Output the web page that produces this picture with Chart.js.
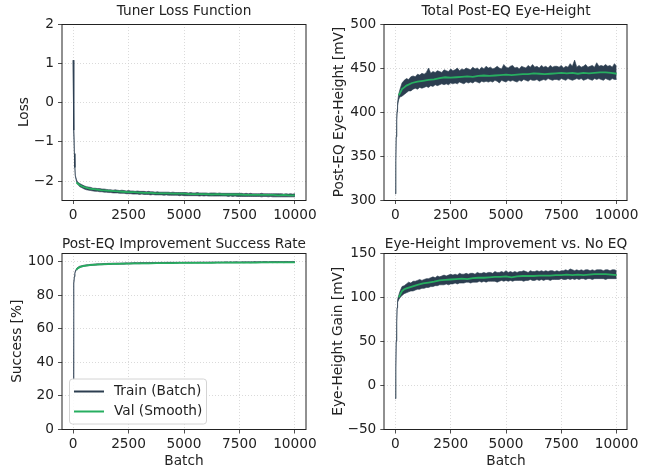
<!DOCTYPE html>
<html>
<head>
<meta charset="utf-8">
<script src="https://cdn.jsdelivr.net/npm/chart.js@4.4.0/dist/chart.umd.min.js"></script>
<style>
  body { margin: 0; background: #fff; }
  #wrap { position: relative; width: 660px; height: 472px; }
  canvas { position: absolute; }
</style>
</head>
<body>
<div id="wrap">
  <canvas id="lossChart" width="330" height="236" style="left:0;top:0"></canvas>
  <canvas id="eyeChart" width="330" height="236" style="left:330px;top:0"></canvas>
  <canvas id="successChart" width="330" height="236" style="left:0;top:236px"></canvas>
  <canvas id="gainChart" width="330" height="236" style="left:330px;top:236px"></canvas>
</div>
<script>
// batch index of the train samples (upper / lower edge of the noisy batch curve)
const trainBatch = [
  0, 20, 40, 60, 80, 100, 150, 200,
  300, 400, 500, 600, 700, 800, 900, 1000, 1100, 1200,
  1300, 1400, 1500, 1600, 1700, 1800, 1900, 2000, 2100, 2200,
  2300, 2400, 2500, 2600, 2700, 2800, 2900, 3000, 3100, 3200,
  3300, 3400, 3500, 3600, 3700, 3800, 3900, 4000, 4100, 4200,
  4300, 4400, 4500, 4600, 4700, 4800, 4900, 5000, 5100, 5200,
  5300, 5400, 5500, 5600, 5700, 5800, 5900, 6000, 6100, 6200,
  6300, 6400, 6500, 6600, 6700, 6800, 6900, 7000, 7100, 7200,
  7300, 7400, 7500, 7600, 7700, 7800, 7900, 8000, 8100, 8200,
  8300, 8400, 8500, 8600, 8700, 8800, 8900, 9000, 9100, 9200,
  9300, 9400, 9500, 9600, 9700, 9800, 9900, 10000
];
// batch index of the smoothed validation samples
const valBatch = [
  150, 200, 300, 400, 500,
  750, 1000, 1250, 1500, 1750, 2000, 2250, 2500, 2750, 3000,
  3250, 3500, 3750, 4000, 4250, 4500, 4750, 5000, 5250, 5500,
  5750, 6000, 6250, 6500, 6750, 7000, 7250, 7500, 7750, 8000,
  8250, 8500, 8750, 9000, 9250, 9500, 9750, 10000
];

const xTicks = [0, 2500, 5000, 7500, 10000];

// Tuner Loss Function
const lossHi = [
  1.08, 0.2, -0.7, -1.3, -1.65, -1.85, -1.96, -2.02,
  -2.06, -2.09, -2.12, -2.14, -2.15, -2.16, -2.18, -2.18, -2.19, -2.19,
  -2.20, -2.20, -2.21, -2.22, -2.22, -2.23, -2.22, -2.23, -2.24, -2.23,
  -2.24, -2.25, -2.24, -2.25, -2.25, -2.26, -2.25, -2.26, -2.26, -2.26,
  -2.27, -2.26, -2.27, -2.27, -2.28, -2.27, -2.28, -2.28, -2.28, -2.28,
  -2.28, -2.29, -2.28, -2.29, -2.29, -2.29, -2.29, -2.29, -2.29, -2.30,
  -2.29, -2.30, -2.30, -2.29, -2.30, -2.30, -2.30, -2.30, -2.31, -2.30,
  -2.30, -2.30, -2.31, -2.30, -2.31, -2.31, -2.31, -2.31, -2.31, -2.31,
  -2.31, -2.31, -2.31, -2.31, -2.32, -2.31, -2.32, -2.31, -2.32, -2.32,
  -2.32, -2.32, -2.31, -2.32, -2.32, -2.32, -2.32, -2.32, -2.32, -2.32,
  -2.32, -2.32, -2.33, -2.32, -2.33, -2.32, -2.33, -2.32
];
const lossLo = [
  1.08, 0.2, -0.7, -1.3, -1.65, -1.87, -2.00, -2.07,
  -2.14, -2.17, -2.20, -2.22, -2.23, -2.24, -2.25, -2.26, -2.26, -2.27,
  -2.27, -2.28, -2.28, -2.29, -2.29, -2.30, -2.30, -2.30, -2.31, -2.31,
  -2.31, -2.32, -2.32, -2.32, -2.33, -2.33, -2.33, -2.34, -2.33, -2.34,
  -2.34, -2.34, -2.35, -2.34, -2.35, -2.35, -2.35, -2.35, -2.36, -2.35,
  -2.36, -2.36, -2.36, -2.36, -2.36, -2.37, -2.36, -2.37, -2.37, -2.37,
  -2.37, -2.37, -2.37, -2.37, -2.38, -2.37, -2.38, -2.37, -2.38, -2.38,
  -2.38, -2.38, -2.38, -2.38, -2.38, -2.38, -2.38, -2.39, -2.38, -2.39,
  -2.38, -2.39, -2.39, -2.39, -2.39, -2.39, -2.39, -2.39, -2.39, -2.39,
  -2.39, -2.39, -2.40, -2.39, -2.39, -2.40, -2.39, -2.40, -2.40, -2.40,
  -2.40, -2.40, -2.40, -2.40, -2.40, -2.40, -2.40, -2.40
];
const lossVal = [
  -2.03, -2.06, -2.10, -2.13, -2.15,
  -2.19, -2.21, -2.23, -2.24, -2.25, -2.26, -2.27, -2.28, -2.28, -2.29,
  -2.30, -2.30, -2.31, -2.31, -2.31, -2.32, -2.32, -2.32, -2.33, -2.33,
  -2.33, -2.33, -2.34, -2.33, -2.34, -2.34, -2.34, -2.34, -2.35, -2.35,
  -2.35, -2.35, -2.35, -2.35, -2.36, -2.35, -2.36, -2.36
];
const lossTicks = [-2, -1, 0, 1, 2];

// Total Post-EQ Eye-Height [mV]
const eyeHi = [
  307, 345, 372, 392, 403, 411, 420, 425,
  433, 436, 438, 437, 440, 441, 440, 443, 442, 444,
  443, 445, 450, 444, 446, 445, 447, 446, 445, 448,
  447, 446, 449, 447, 448, 450, 447, 449, 448, 450,
  449, 448, 451, 449, 450, 448, 451, 449, 452, 450,
  451, 449, 450, 452, 450, 449, 454, 451, 450, 452,
  453, 450, 451, 449, 452, 451, 450, 453, 451, 454,
  451, 452, 450, 453, 451, 452, 450, 453, 451, 452,
  452, 451, 453, 450, 452, 451, 455, 452, 459, 451,
  453, 451, 452, 454, 451, 452, 453, 451, 456, 452,
  453, 452, 454, 452, 453, 451, 455, 452
];
const eyeLo = [
  307, 345, 372, 390, 400, 407, 414, 417,
  418, 420, 422, 424, 424, 426, 427, 426, 428, 427,
  428, 429, 428, 430, 429, 431, 430, 431, 432, 431,
  432, 431, 433, 432, 433, 432, 434, 433, 432, 434,
  433, 434, 433, 435, 434, 433, 435, 434, 435, 434,
  435, 434, 436, 435, 433, 436, 435, 434, 436, 435,
  436, 435, 434, 436, 435, 437, 436, 435, 437, 436,
  436, 437, 435, 436, 437, 436, 438, 437, 436, 437,
  437, 436, 438, 437, 436, 438, 437, 436, 437, 438,
  437, 438, 436, 437, 438, 437, 436, 438, 437, 438,
  437, 436, 438, 437, 436, 438, 437, 437
];
const eyeVal = [
  419, 421, 426, 428, 430,
  433, 434.5, 435.5, 436.5, 437, 438.5, 439.5, 439, 439.5, 440,
  440.5, 440, 441, 441.5, 441, 441.5, 442, 442.5, 442, 442.5,
  443, 443, 444, 443.5, 443, 443.5, 444, 444.5, 444, 444.5,
  443.5, 444.5, 444, 444.5, 445, 445, 444.5, 443.5
];
const eyeTicks = [300, 350, 400, 450, 500];

// Post-EQ Improvement Success Rate [%]
const successHi = [
  30, 78, 87, 91, 93, 94.3, 95.6, 96.4,
  97.2, 97.5, 97.8, 98.0, 98.1, 98.3, 98.4, 98.5, 98.6, 98.6,
  98.7, 98.8, 98.8, 98.9, 98.9, 99.0, 99.0, 99.1, 99.0, 99.1,
  99.1, 99.2, 99.1, 99.2, 99.2, 99.3, 99.2, 99.3, 99.3, 99.3,
  99.3, 99.4, 99.3, 99.4, 99.4, 99.4, 99.4, 99.5, 99.4, 99.5,
  99.5, 99.5, 99.5, 99.5, 99.5, 99.6, 99.5, 99.6, 99.6, 99.6,
  99.6, 99.6, 99.6, 99.6, 99.7, 99.6, 99.7, 99.6, 99.7, 99.7,
  99.7, 99.7, 99.7, 99.7, 99.7, 99.7, 99.8, 99.7, 99.8, 99.7,
  99.8, 99.8, 99.7, 99.8, 99.8, 99.8, 99.8, 99.8, 99.8, 99.9,
  99.8, 99.9, 99.8, 99.9, 99.9, 99.8, 99.9, 99.9, 99.9, 99.9,
  99.9, 99.9, 99.9, 100, 99.9, 99.9, 100, 99.9
];
const successLo = [
  30, 78, 87, 91, 93, 93.7, 95.0, 95.6,
  96.4, 96.8, 97.1, 97.3, 97.5, 97.6, 97.7, 97.8, 97.9, 98.0,
  98.0, 98.1, 98.1, 98.2, 98.2, 98.3, 98.3, 98.3, 98.4, 98.4,
  98.4, 98.5, 98.5, 98.5, 98.6, 98.6, 98.6, 98.6, 98.7, 98.7,
  98.7, 98.7, 98.8, 98.8, 98.8, 98.8, 98.9, 98.8, 98.9, 98.9,
  98.9, 98.9, 98.9, 99.0, 98.9, 99.0, 99.0, 99.0, 99.0, 99.0,
  99.0, 99.0, 99.1, 99.0, 99.1, 99.1, 99.1, 99.1, 99.1, 99.1,
  99.1, 99.1, 99.2, 99.1, 99.2, 99.2, 99.2, 99.2, 99.2, 99.2,
  99.2, 99.2, 99.2, 99.3, 99.2, 99.3, 99.3, 99.2, 99.3, 99.3,
  99.3, 99.3, 99.3, 99.3, 99.3, 99.3, 99.4, 99.3, 99.4, 99.3,
  99.4, 99.4, 99.3, 99.4, 99.4, 99.4, 99.4, 99.4
];
const successVal = [
  95, 95.8, 96.6, 97.0, 97.3,
  97.8, 98.1, 98.3, 98.4, 98.5, 98.6, 98.7, 98.75, 98.8, 98.85,
  98.9, 98.9, 98.95, 99.0, 99.0, 99.05, 99.1, 99.1, 99.1, 99.15,
  99.2, 99.2, 99.2, 99.25, 99.25, 99.3, 99.3, 99.3, 99.35, 99.35,
  99.35, 99.4, 99.4, 99.4, 99.4, 99.45, 99.45, 99.45
];
const successTicks = [0, 20, 40, 60, 80, 100];

// Eye-Height Improvement vs. No EQ [mV]
const gainHi = [
  -15, 20, 50, 72, 88, 97, 102, 106,
  112, 113, 115, 117, 116, 118, 118, 119, 120, 119,
  120, 121, 121, 122, 123, 122, 124, 123, 124, 125,
  124, 125, 126, 125, 126, 125, 127, 126, 126, 127,
  126, 127, 127, 126, 128, 127, 127, 128, 127, 128,
  128, 127, 129, 128, 128, 129, 128, 130, 128, 129,
  128, 129, 128, 129, 129, 130, 129, 128, 130, 129,
  129, 130, 129, 130, 129, 130, 129, 130, 130, 129,
  130, 129, 130, 130, 131, 130, 132, 131, 130, 131,
  130, 131, 130, 131, 131, 130, 131, 130, 131, 131,
  131, 130, 131, 131, 130, 131, 131, 130
];
const gainLo = [
  -15, 20, 50, 72, 88, 94, 97, 99,
  102, 104, 105, 106, 107, 107, 108, 109, 109, 110,
  110, 111, 111, 112, 112, 113, 113, 114, 114, 114,
  115, 114, 115, 115, 116, 115, 116, 116, 116, 117,
  117, 116, 117, 117, 117, 118, 117, 118, 117, 118,
  118, 118, 118, 117, 118, 119, 118, 119, 118, 119,
  118, 119, 119, 119, 119, 118, 119, 119, 120, 119,
  119, 120, 119, 120, 119, 120, 120, 119, 120, 120,
  120, 120, 121, 120, 120, 121, 120, 121, 120, 121,
  120, 121, 121, 120, 121, 121, 120, 121, 121, 121,
  121, 121, 120, 121, 121, 121, 121, 121
];
const gainVal = [
  100, 102, 107, 109, 110,
  112, 114, 115.5, 116.5, 117.5, 119, 119.5, 120, 120.5, 121,
  120.5, 121.5, 122, 122, 122.5, 123, 123, 123.5, 122.5, 123.5,
  124, 124, 124, 124.5, 124.5, 124.5, 125, 125, 125.5, 125,
  125.5, 125, 125.5, 126, 126, 126, 125.5, 125
];
const gainTicks = [-50, 0, 50, 100, 150];

const trainColor = '#2c3e50';
const valColor = '#27ae60';
const fontSize = 13.7;

Chart.defaults.font.family = 'DejaVu Sans';
Chart.defaults.font.size = fontSize;
Chart.defaults.color = '#222';

// matplotlib style box around the axes
const framePlugin = {
  id: 'frame',
  afterDatasetsDraw(chart) {
    const a = chart.chartArea;
    const ctx = chart.ctx;
    ctx.save();
    ctx.lineWidth = 1;
    ctx.strokeStyle = '#222';
    ctx.strokeRect(Math.round(a.left), Math.round(a.top) + 0.5,
      Math.round(a.right - a.left), Math.round(a.bottom - a.top));
    ctx.restore();
  }
};

// legend box in the lower left corner of the axes
const insideLegend = {
  id: 'insideLegend',
  afterDraw(chart) {
    const a = chart.chartArea;
    const ctx = chart.ctx;
    const x = a.left + 7, y = a.bottom - 51;
    const items = chart.data.datasets.filter(ds => ds.label);
    ctx.save();
    ctx.fillStyle = 'rgba(255,255,255,0.85)';
    ctx.strokeStyle = '#d4d4d4';
    ctx.lineWidth = 1;
    ctx.beginPath();
    ctx.roundRect(x + 0.5, y + 0.5, 137, 45, 3);
    ctx.fill();
    ctx.stroke();
    ctx.font = fontSize + 'px DejaVu Sans';
    ctx.textBaseline = 'middle';
    items.forEach((ds, i) => {
      const ly = y + 13 + i * 20;
      ctx.strokeStyle = ds.legendColor;
      ctx.lineWidth = 2;
      ctx.beginPath();
      ctx.moveTo(x + 5, ly);
      ctx.lineTo(x + 35, ly);
      ctx.stroke();
      ctx.fillStyle = '#222';
      ctx.fillText(ds.label, x + 45, ly);
    });
    ctx.restore();
  }
};

const fmt = (v) => String(v).replace('-', '\u2212');

function makeChart(id, p) {
  const hiPts = trainBatch.map((b, i) => ({ x: b, y: p.hi[i] }));
  const loPts = trainBatch.map((b, i) => ({ x: b, y: p.lo[i] }));
  const valPts = valBatch.map((b, i) => ({ x: b, y: p.val[i] }));
  return new Chart(document.getElementById(id), {
    type: 'line',
    data: {
      datasets: [
        { label: 'Train (Batch)', legendColor: trainColor, data: hiPts,
          borderColor: 'rgba(44,62,80,0.6)', borderWidth: 1, pointRadius: 0, fill: false, order: 2 },
        { label: '', data: loPts,
          borderColor: 'rgba(44,62,80,0.6)', borderWidth: 1, pointRadius: 0,
          fill: '-1', backgroundColor: trainColor, order: 3 },
        { label: 'Val (Smooth)', legendColor: valColor, data: valPts,
          borderColor: valColor, borderWidth: 1.8, pointRadius: 0, order: 1 }
      ]
    },
    options: {
      responsive: false,
      animation: false,
      devicePixelRatio: 1,
      layout: { padding: { left: 0, right: p.padRight, top: 0, bottom: 0 } },
      plugins: {
        legend: { display: false },
        tooltip: { enabled: false },
        title: {
          display: true,
          fullSize: false,
          text: p.title,
          font: { size: fontSize, weight: 'normal' },
          color: '#222',
          padding: p.titlePad
        }
      },
      scales: {
        x: {
          type: 'linear',
          min: -500,
          max: 10500,
          afterBuildTicks: (s) => { s.ticks = xTicks.map(v => ({ value: v })); },
          afterFit: (s) => { s.height = p.xHeight; },
          ticks: { padding: 3, maxRotation: 0, callback: fmt },
          grid: { color: '#d0d0d0', lineWidth: 0.8, tickColor: '#222', tickLength: 4, tickWidth: 0.8 },
          border: { display: false, dash: [1, 2] },
          title: { display: !!p.xTitle, text: p.xTitle, padding: { top: 0, bottom: 2.8 } }
        },
        y: {
          min: p.yMin,
          max: p.yMax,
          afterBuildTicks: (s) => { s.ticks = p.yTicks.map(v => ({ value: v })); },
          afterFit: (s) => { s.width = p.yWidth; },
          ticks: { padding: 4, callback: fmt },
          grid: { color: '#d0d0d0', lineWidth: 0.8, tickColor: '#222', tickLength: 4, tickWidth: 0.8 },
          border: { display: false, dash: [1, 2] },
          title: { display: true, text: p.yTitle, padding: { top: p.yTitlePad, bottom: 0 } }
        }
      }
    },
    plugins: p.legend ? [framePlugin, insideLegend] : [framePlugin]
  });
}

makeChart('lossChart', {
  title: 'Tuner Loss Function', yTitle: 'Loss', xTitle: '',
  hi: lossHi, lo: lossLo, val: lossVal, yTicks: lossTicks, yMin: -2.48, yMax: 2,
  titlePad: { top: 3.5, bottom: 4.1 }, xHeight: 36, yWidth: 62, padRight: 24, yTitlePad: 15.8
});
makeChart('eyeChart', {
  title: 'Total Post-EQ Eye-Height', yTitle: 'Post-EQ Eye-Height [mV]', xTitle: '',
  hi: eyeHi, lo: eyeLo, val: eyeVal, yTicks: eyeTicks, yMin: 300, yMax: 500,
  titlePad: { top: 3.5, bottom: 4.1 }, xHeight: 36, yWidth: 54.3, padRight: 32.3, yTitlePad: 1.3
});
makeChart('successChart', {
  title: 'Post-EQ Improvement Success Rate', yTitle: 'Success [%]', xTitle: 'Batch',
  hi: successHi, lo: successLo, val: successVal, yTicks: successTicks, yMin: 0, yMax: 105,
  titlePad: { top: 0, bottom: 0.6 }, xHeight: 42.5, yWidth: 62, padRight: 24, yTitlePad: 9.3,
  legend: true
});
makeChart('gainChart', {
  title: 'Eye-Height Improvement vs. No EQ', yTitle: 'Eye-Height Gain [mV]', xTitle: 'Batch',
  hi: gainHi, lo: gainLo, val: gainVal, yTicks: gainTicks, yMin: -50, yMax: 150,
  titlePad: { top: 0, bottom: 0.6 }, xHeight: 42.5, yWidth: 54.3, padRight: 32.3, yTitlePad: 0
});
</script>
</body>
</html>
